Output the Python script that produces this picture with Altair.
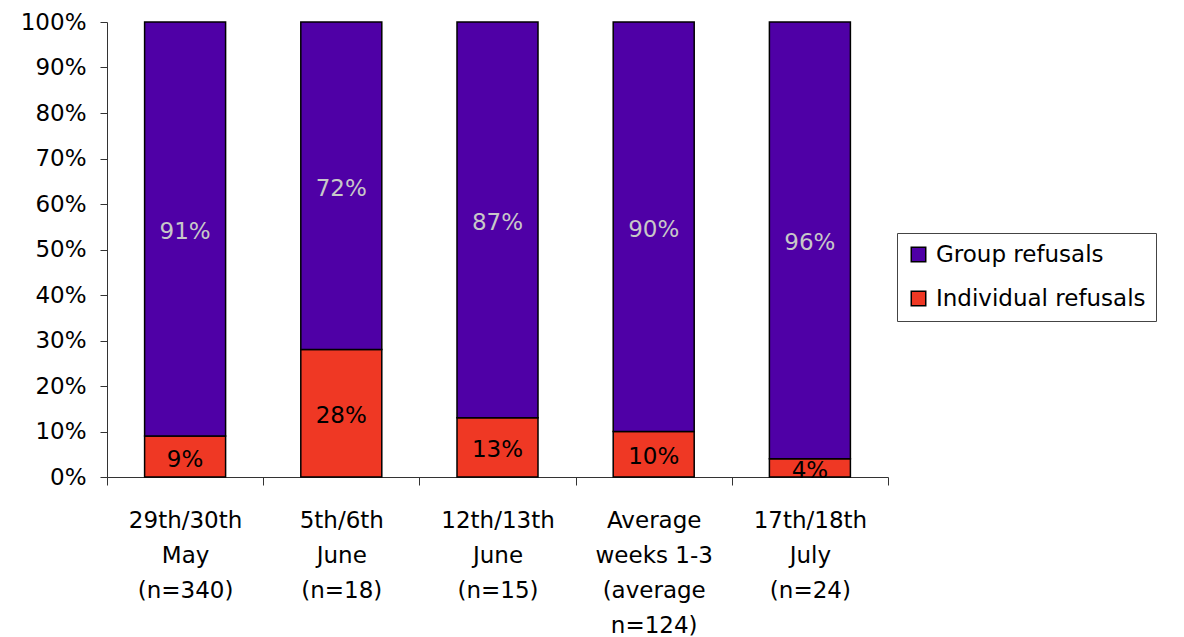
import altair as alt
import pandas as pd

categories = ["29th/30th|May|(n=340)", "5th/6th|June|(n=18)", "12th/13th|June|(n=15)",
              "Average|weeks 1-3|(average|n=124)", "17th/18th|July|(n=24)"]
individual = [9, 28, 13, 10, 4]
group = [91, 72, 87, 90, 96]
series = ["Group refusals", "Individual refusals"]
colors = ["#4F00A6", "#EF3824"]
text_colors = ["#C8C8C8", "#000000"]

rows = []
for i, cat in enumerate(categories):
    for s, vals, order, tc in [(series[1], individual, 0, text_colors[1]), (series[0], group, 1, text_colors[0])]:
        rows.append({"cat": cat, "series": s, "value": vals[i] / 100.0, "ord": order,
                     "label": f"{vals[i]}%", "tc": tc})
df = pd.DataFrame(rows)

FONT = "DejaVu Sans"
FS = 23

base = alt.Chart(df)

bars = base.mark_bar(stroke="black", strokeWidth=1.5, size=81).encode(
    x=alt.X("cat:N", sort=categories, scale=alt.Scale(paddingInner=0, paddingOuter=0),
            axis=alt.Axis(title=None, labelAngle=0, labelExpr="split(datum.label, '|')",
                          tickBand="extent", tickSize=8, labelPadding=24, labelFontSize=FS,
                          labelLineHeight=35, labelFont=FONT, labelColor="black",
                          domainColor="#333", tickColor="#333", labelBaseline="top")),
    y=alt.Y("value:Q", stack="zero", scale=alt.Scale(domain=[0, 1], nice=False),
            axis=alt.Axis(title=None, format=".0%", values=[i / 10 for i in range(11)],
                          grid=False, tickSize=7, labelPadding=14, labelFontSize=FS,
                          labelFont=FONT, labelColor="black", domainColor="#333",
                          tickColor="#333")),
    color=alt.Color("series:N", scale=alt.Scale(domain=series, range=colors),
                    legend=alt.Legend(title=None, orient="none", legendX=790, legendY=211,
                                      symbolType="square", symbolSize=210,
                                      symbolStrokeColor="black", symbolStrokeWidth=1.5,
                                      labelFontSize=FS, labelFont=FONT, labelColor="black",
                                      labelLimit=0,
                                      strokeColor="#444", padding=10, rowPadding=20,
                                      labelOffset=6, symbolOpacity=1)),
    order=alt.Order("ord:Q"),
)

texts = base.transform_stack(
    stack="value", groupby=["cat"], as_=["y0", "y1"], sort=[alt.SortField("ord", order="ascending")]
).transform_calculate(
    mid="(datum.y0 + datum.y1) / 2"
).mark_text(fontSize=FS, font=FONT, baseline="middle", dy=3).encode(
    x=alt.X("cat:N", sort=categories),
    y=alt.Y("mid:Q"),
    text="label:N",
    color=alt.Color("tc:N", scale=None),
)

chart = alt.layer(bars, texts).properties(
    width=781, height=455,
    autosize=alt.AutoSizeParams(type="none"),
    padding={"left": 107, "top": 22, "right": 296, "bottom": 160},
).configure(background="white").configure_view(stroke="transparent", strokeWidth=0)

chart.save("out.html", embed_options={"renderer": "svg", "actions": False})
